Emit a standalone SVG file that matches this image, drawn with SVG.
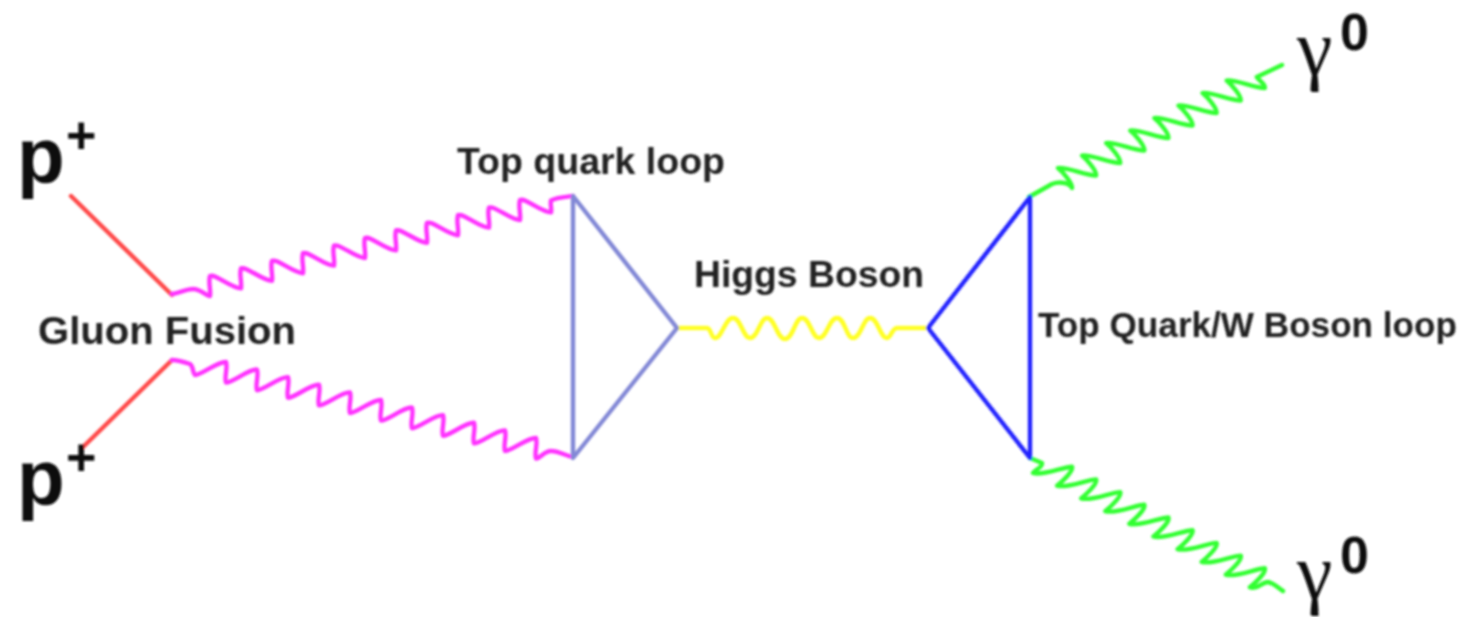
<svg xmlns="http://www.w3.org/2000/svg" width="1460" height="617" viewBox="0 0 1460 617">
<style>
.w{fill:none;stroke-linecap:round;stroke-linejoin:round}
.s{stroke-width:4.4}
.m{stroke:#ff30ff}.g{stroke:#30ff30}.y{stroke:#ffff20}.r{stroke:#ff4848}
.t{font-family:"Liberation Sans",Arial,sans-serif;font-weight:700;fill:#222}
.p{font-size:78px;fill:#111}
.u{font-size:52px;fill:#111}
.c{font-family:"Liberation Serif","Times New Roman",serif;font-size:80px;fill:#111}
</style>
<defs><filter id="soft" x="-5%" y="-5%" width="110%" height="110%"><feGaussianBlur stdDeviation="0.8"/></filter></defs>
<rect width="1460" height="617" fill="#fff"/>
<g filter="url(#soft)">
<g id="connectors">
<path class="w s r" d="M71 196L172 295M83 447L172 360"/>
<path class="w s m" d="M172 294C180 293 186 289 193 289C201 289 206 296 210 296c1,-7 -2,-14 0,-20c6,-2 21,12 31,12.4c1,-7 -2,-14 0,-20c6,-2 21,12 31,12.4c1,-7 -2,-14 0,-20c6,-2 21,12 31,12.4c1,-7 -2,-14 0,-20c6,-2 21,12 31,12.4c1,-7 -2,-14 0,-20c6,-2 21,12 31,12.4c1,-7 -2,-14 0,-20c6,-2 21,12 31,12.4c1,-7 -2,-14 0,-20c6,-2 21,12 31,12.4c1,-7 -2,-14 0,-20c6,-2 21,12 31,12.4c1,-7 -2,-14 0,-20c6,-2 21,12 31,12.4c1,-7 -2,-14 0,-20c6,-2 21,12 31,12.4c1,-7 -2,-14 0,-20c6,-2 21,12 31,12.4c1,-4 -1,-8 0,-12C558 197 566 197 573 196"/>
<path class="w s m" d="M172 360C178 360 184 362 190 364C194 367 192 372 195 375c7,0 23,-14 31,-13c2,6 -2,15 0,20.6c7,0 23,-14 31,-13c2,6 -2,15 0,20.6c7,0 23,-14 31,-13c2,6 -2,15 0,20.6c7,0 23,-14 31,-13c2,6 -2,15 0,20.6c7,0 23,-14 31,-13c2,6 -2,15 0,20.6c7,0 23,-14 31,-13c2,6 -2,15 0,20.6c7,0 23,-14 31,-13c2,6 -2,15 0,20.6c7,0 23,-14 31,-13c2,6 -2,15 0,20.6c7,0 23,-14 31,-13c2,6 -2,15 0,20.6c7,0 23,-14 31,-13c2,6 -2,15 0,20.6c7,0 23,-14 31,-13c2,6 -2,15 0,20.6C541 458 544 451 551 451C559 451 566 456 573 457"/>
<path class="w s y" d="M677 328L707 328C711 328 711 338 715 338C722 338 725 318 733 318C741 318 743 338 750 338C758 338 760 318 767 318C775 318 777 339 785 339C793 339 795 318 802 318C810 318 812 338 819 338C827 338 829 318 837 318C845 318 846 338 853 338C861 338 863 318 870 318C878 318 880 338 887 338C891 338 892 328 897 328L928 328"/>
<path class="w s g" d="M1029 197L1052 184C1060 181 1070 183 1072 188c1,-4 -9,-16 -14,-20c7,-2 29,8 38.1,7.5c1,-4 -9,-16 -14,-20c7,-2 29,8 38.1,7.5c1,-4 -9,-16 -14,-20c7,-2 29,8 38.1,7.5c1,-4 -9,-16 -14,-20c7,-2 29,8 38.1,7.5c1,-4 -9,-16 -14,-20c7,-2 29,8 38.1,7.5c1,-4 -9,-16 -14,-20c7,-2 29,8 38.1,7.5c1,-4 -9,-16 -14,-20c7,-2 29,8 38.1,7.5c1,-4 -9,-16 -14,-20c7,-2 29,8 38.1,7.5c1,-4 -6,-7 -8,-11L1282 65"/>
<path class="w s g" d="M1030 458L1042 463C1043 467 1036 469 1033 473c10,3 30,-6 39,-6.3c2,4 -10,15 -14.9,19c10,3 30,-6 39,-6.3c2,4 -10,15 -14.9,19c10,3 30,-6 39,-6.3c2,4 -10,15 -14.9,19c10,3 30,-6 39,-6.3c2,4 -10,15 -14.9,19c10,3 30,-6 39,-6.3c2,4 -10,15 -14.9,19c10,3 30,-6 39,-6.3c2,4 -10,15 -14.9,19c10,3 30,-6 39,-6.3c2,4 -10,15 -14.9,19c10,3 30,-6 39,-6.3c2,4 -10,15 -14.9,19c10,3 30,-6 39,-6.3c2,4 -10,15 -14.9,19C1257 590 1262 582 1268 582C1274 583 1278 588 1283 591"/>
</g>
<g id="loop-left"><path class="w s" stroke="#8288d6" d="M573 196L573 458L677 328Z"/></g>
<g id="loop-right"><path class="w s" stroke="#2020ff" d="M1030 197L1030 458L928 328Z"/></g>
<g id="proton-top"><text class="t p" x="17" y="183">p</text><text class="t u" x="66" y="153">+</text></g>
<g id="proton-bottom"><text class="t p" x="17" y="505">p</text><text class="t u" x="66" y="475">+</text></g>
<g id="gluon-fusion"><text class="t" font-size="38" textLength="258" lengthAdjust="spacingAndGlyphs" x="38" y="344">Gluon Fusion</text></g>
<g id="top-quark-loop"><text class="t" font-size="37" textLength="268" lengthAdjust="spacingAndGlyphs" x="457" y="174">Top quark loop</text></g>
<g id="higgs-boson"><text class="t" font-size="37" textLength="230" lengthAdjust="spacingAndGlyphs" x="694" y="287">Higgs Boson</text></g>
<g id="top-w-loop"><text class="t" font-size="35" textLength="419" lengthAdjust="spacingAndGlyphs" x="1038" y="337">Top Quark/W Boson loop</text></g>
<g id="photon-top"><text class="c" x="1297" y="75">γ</text><text class="t u" x="1340" y="50">0</text></g>
<g id="photon-bottom"><text class="c" x="1297" y="599">γ</text><text class="t u" x="1340" y="573">0</text></g>
</g>
</svg>
